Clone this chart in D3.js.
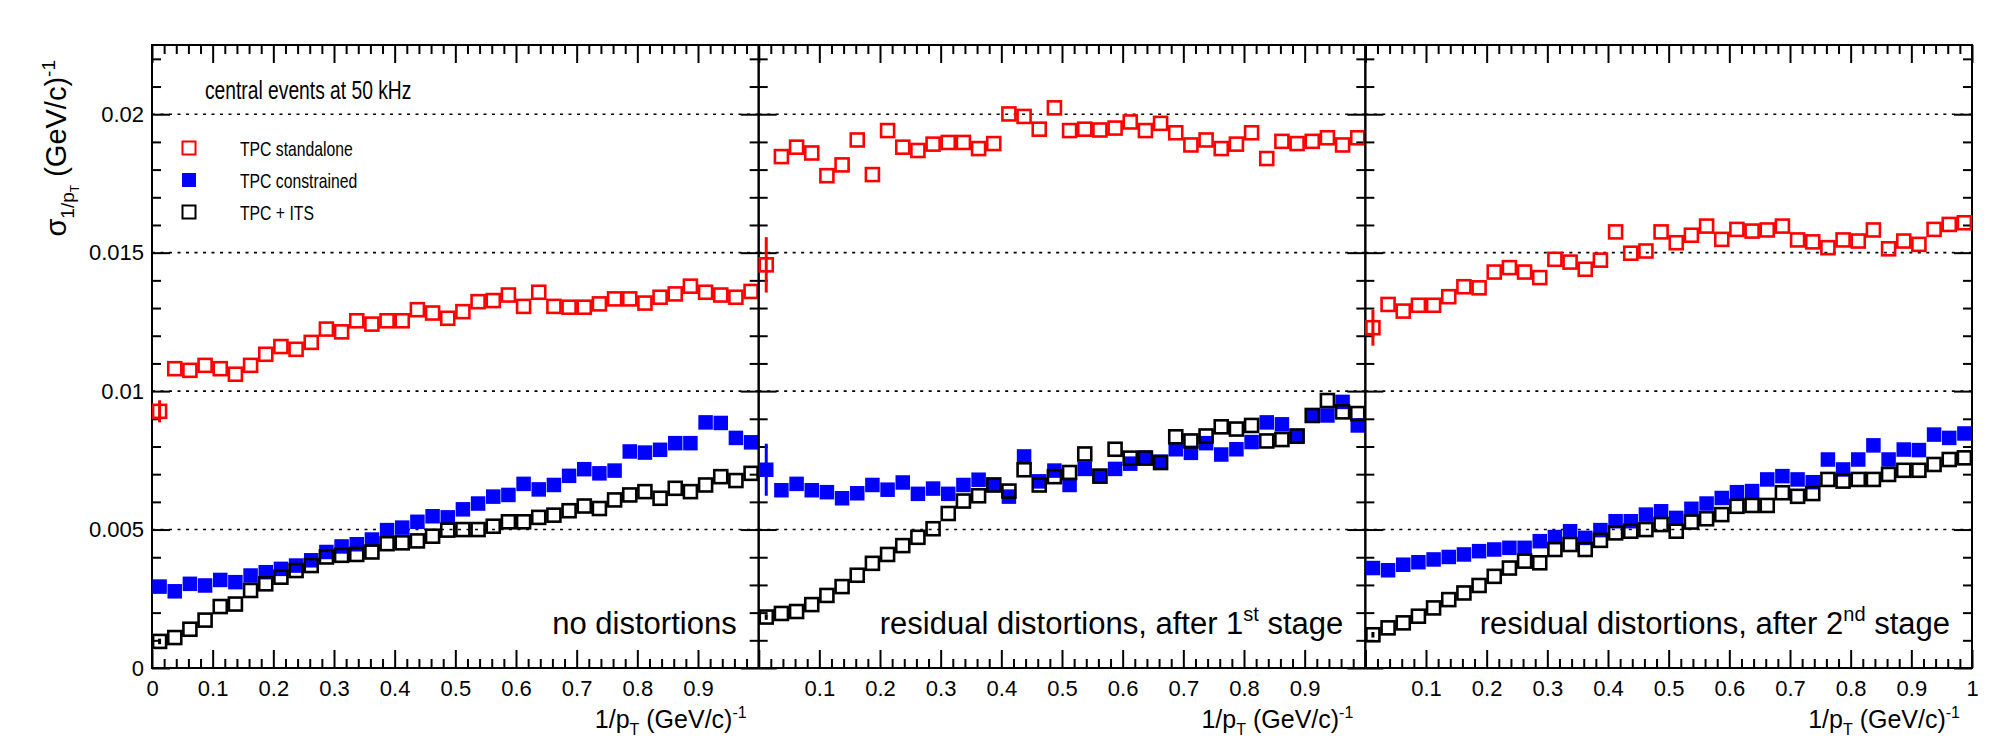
<!DOCTYPE html>
<html>
<head>
<meta charset="utf-8">
<script src="https://cdn.jsdelivr.net/npm/d3@7"></script>
<style>
  body { margin: 0; background: #fff; }
  text { font-family: "Liberation Sans", Arial, Helvetica, sans-serif; fill: #000; }
</style>
</head>
<body>
<div id="chart"></div>
<script>
// bin centres of 1/pT (GeV/c)^-1, 40 bins of 0.025
var binCenters = [0.0125, 0.0375, 0.0625, 0.0875, 0.1125, 0.1375, 0.1625, 0.1875, 0.2125, 0.2375,
  0.2625, 0.2875, 0.3125, 0.3375, 0.3625, 0.3875, 0.4125, 0.4375, 0.4625, 0.4875,
  0.5125, 0.5375, 0.5625, 0.5875, 0.6125, 0.6375, 0.6625, 0.6875, 0.7125, 0.7375,
  0.7625, 0.7875, 0.8125, 0.8375, 0.8625, 0.8875, 0.9125, 0.9375, 0.9625, 0.9875];

// panel 1 : no distortions
var standaloneNoDist = [0.00927, 0.01081, 0.01075, 0.01093, 0.01081, 0.01061, 0.01093, 0.01133, 0.01161, 0.01151,
  0.01176, 0.01224, 0.01214, 0.01254, 0.01242, 0.01254, 0.01254, 0.01294, 0.01282, 0.01263,
  0.01287, 0.01323, 0.01327, 0.01347, 0.01306, 0.01357, 0.01306, 0.01303, 0.01303, 0.01315,
  0.01333, 0.01333, 0.01318, 0.01339, 0.01351, 0.01379, 0.01357, 0.01347, 0.01339, 0.01360];
var constrainedNoDist = [0.00294, 0.00277, 0.00304, 0.00298, 0.00318, 0.00310, 0.00334, 0.00346, 0.00358, 0.00370,
  0.00389, 0.00419, 0.00439, 0.00447, 0.00464, 0.00498, 0.00507, 0.00528, 0.00548, 0.00544,
  0.00573, 0.00594, 0.00619, 0.00625, 0.00665, 0.00645, 0.00661, 0.00694, 0.00718, 0.00703,
  0.00713, 0.00782, 0.00778, 0.00788, 0.00812, 0.00812, 0.00887, 0.00885, 0.00831, 0.00815];
var itsNoDist = [0.00096, 0.00110, 0.00140, 0.00173, 0.00222, 0.00231, 0.00280, 0.00304, 0.00328, 0.00352,
  0.00370, 0.00401, 0.00407, 0.00410, 0.00419, 0.00449, 0.00452, 0.00459, 0.00476, 0.00498,
  0.00500, 0.00500, 0.00512, 0.00528, 0.00528, 0.00544, 0.00552, 0.00568, 0.00585, 0.00576,
  0.00607, 0.00625, 0.00637, 0.00613, 0.00649, 0.00637, 0.00661, 0.00691, 0.00677, 0.00703];

// panel 2 : after 1st stage
var standaloneStage1 = [0.01456, 0.01847, 0.01881, 0.01860, 0.01778, 0.01817, 0.01907, 0.01782, 0.01941, 0.01881,
  0.01869, 0.01892, 0.01898, 0.01898, 0.01876, 0.01894, 0.02001, 0.01992, 0.01946, 0.02023,
  0.01941, 0.01946, 0.01943, 0.01950, 0.01972, 0.01941, 0.01967, 0.01933, 0.01889, 0.01907,
  0.01876, 0.01892, 0.01933, 0.01840, 0.01902, 0.01894, 0.01902, 0.01915, 0.01889, 0.01915];
var constrainedStage1 = [0.00716, 0.00642, 0.00665, 0.00642, 0.00635, 0.00613, 0.00631, 0.00661, 0.00644, 0.00670,
  0.00629, 0.00648, 0.00629, 0.00661, 0.00680, 0.00661, 0.00619, 0.00764, 0.00674, 0.00713,
  0.00661, 0.00719, 0.00693, 0.00719, 0.00738, 0.00760, 0.00745, 0.00790, 0.00777, 0.00812,
  0.00771, 0.00790, 0.00816, 0.00887, 0.00880, 0.00835, 0.00912, 0.00912, 0.00961, 0.00876];
var itsStage1 = [0.00184, 0.00197, 0.00204, 0.00229, 0.00262, 0.00294, 0.00335, 0.00378, 0.00410, 0.00442,
  0.00472, 0.00503, 0.00558, 0.00603, 0.00622, 0.00661, 0.00639, 0.00716, 0.00661, 0.00691,
  0.00706, 0.00773, 0.00693, 0.00790, 0.00758, 0.00758, 0.00742, 0.00835, 0.00820, 0.00838,
  0.00871, 0.00863, 0.00876, 0.00820, 0.00825, 0.00838, 0.00912, 0.00966, 0.00925, 0.00919];

// panel 3 : after 2nd stage
var standaloneStage2 = [0.01229, 0.01313, 0.01289, 0.01310, 0.01310, 0.01341, 0.01377, 0.01373, 0.01430, 0.01446,
  0.01430, 0.01410, 0.01476, 0.01466, 0.01440, 0.01473, 0.01575, 0.01498, 0.01506, 0.01575,
  0.01536, 0.01563, 0.01596, 0.01548, 0.01584, 0.01578, 0.01582, 0.01596, 0.01546, 0.01539,
  0.01518, 0.01546, 0.01542, 0.01582, 0.01514, 0.01542, 0.01530, 0.01584, 0.01602, 0.01608];
var constrainedStage2 = [0.00361, 0.00353, 0.00373, 0.00382, 0.00392, 0.00401, 0.00410, 0.00422, 0.00428, 0.00434,
  0.00434, 0.00458, 0.00473, 0.00494, 0.00470, 0.00498, 0.00530, 0.00530, 0.00554, 0.00566,
  0.00542, 0.00575, 0.00594, 0.00614, 0.00635, 0.00639, 0.00681, 0.00693, 0.00681, 0.00671,
  0.00753, 0.00717, 0.00753, 0.00804, 0.00753, 0.00789, 0.00787, 0.00843, 0.00831, 0.00847];
var itsStage2 = [0.00120, 0.00145, 0.00163, 0.00187, 0.00217, 0.00247, 0.00271, 0.00298, 0.00331, 0.00361,
  0.00386, 0.00380, 0.00428, 0.00446, 0.00428, 0.00461, 0.00488, 0.00494, 0.00500, 0.00518,
  0.00494, 0.00527, 0.00539, 0.00554, 0.00584, 0.00587, 0.00587, 0.00633, 0.00620, 0.00630,
  0.00681, 0.00675, 0.00681, 0.00681, 0.00699, 0.00714, 0.00714, 0.00735, 0.00753, 0.00759];

// error of the first bin (the only ones sticking out of the markers), per panel
var standaloneErr0 = [0.0004, 0.0010, 0.00065];
var constrainedErr0 = [0.00008, 0.00094, 0.0001];
var itsErr0 = [0.0001, 0.0001, 0.0001];

var yTickValues = [0, 0.005, 0.01, 0.015, 0.02];
var yTickLabels = ["0", "0.005", "0.01", "0.015", "0.02"];
var gridValues = [0.005, 0.01, 0.015, 0.02];
var xTickLabels = [
  ["0", "0.1", "0.2", "0.3", "0.4", "0.5", "0.6", "0.7", "0.8", "0.9"],
  ["0.1", "0.2", "0.3", "0.4", "0.5", "0.6", "0.7", "0.8", "0.9"],
  ["0.1", "0.2", "0.3", "0.4", "0.5", "0.6", "0.7", "0.8", "0.9", "1"]
];
var panelLabels = [
  { text: "no distortions" },
  { text: "residual distortions, after 1", sup: "st", post: " stage" },
  { text: "residual distortions, after 2", sup: "nd", post: " stage" }
];
var legendNames = ["TPC standalone", "TPC constrained", "TPC + ITS"];

var panels = [
  { standalone: standaloneNoDist, constrained: constrainedNoDist, its: itsNoDist },
  { standalone: standaloneStage1, constrained: constrainedStage1, its: itsStage1 },
  { standalone: standaloneStage2, constrained: constrainedStage2, its: itsStage2 }
];

var width = 2006, height = 739;
var margin = { left: 152, right: 34, top: 45, bottom: 71 };
var panelW = (width - margin.left - margin.right) / 3;
var bottomY = height - margin.bottom;
var majorLen = 18, minorLen = 9, mSize = 13;
var fontFam = '"Liberation Sans", Arial, sans-serif';

var svg = d3.select("#chart").append("svg")
    .attr("width", width)
    .attr("height", height);

var y = d3.scaleLinear().domain([0, 0.0225]).range([bottomY, margin.top]);

var xMajor = d3.range(0, 1.0001, 0.1);
var xMinor = d3.range(0, 1.0001, 0.02).filter(v => Math.abs(v * 10 - Math.round(v * 10)) > 1e-6);
var yMinor = d3.range(0, 0.0225, 0.001).filter(v => Math.abs(v * 200 - Math.round(v * 200)) > 1e-6);

function cleanAxis(g) {
    g.select('.domain').remove();
    g.selectAll('.tick line').attr('stroke', '#000').attr('stroke-width', 2);
}

panels.forEach(function (pd, p) {
    var left = margin.left + p * panelW;
    var right = left + panelW;
    var x = d3.scaleLinear().domain([0, 1]).range([left, right]);
    var g = svg.append('g').attr('class', 'panel');

    // dotted grid
    g.selectAll('line.grid')
        .data(gridValues)
        .enter()
        .append('line')
        .attr('class', 'grid')
        .attr('x1', left).attr('x2', right)
        .attr('y1', d => y(d)).attr('y2', d => y(d))
        .attr('stroke', '#000')
        .attr('stroke-width', 1.6)
        .attr('stroke-dasharray', '3,5.5');

    // bottom axis, major with labels
    var labs = xTickLabels[p];
    var xb = g.append('g')
        .attr('transform', `translate(0, ${bottomY})`)
        .call(d3.axisBottom(x).tickValues(xMajor).tickSize(-majorLen).tickPadding(12)
            .tickFormat(d => {
                var s = d3.format('.1~f')(d);
                return labs.indexOf(s) >= 0 ? s : '';
            }));
    cleanAxis(xb);
    xb.selectAll('text').attr('font-size', 22).attr('font-family', fontFam).attr('fill', '#000');

    var xbm = g.append('g')
        .attr('transform', `translate(0, ${bottomY})`)
        .call(d3.axisBottom(x).tickValues(xMinor).tickSize(-minorLen).tickFormat(''));
    cleanAxis(xbm);

    // top axis
    var xt = g.append('g')
        .attr('transform', `translate(0, ${margin.top})`)
        .call(d3.axisTop(x).tickValues(xMajor).tickSize(-majorLen).tickFormat(''));
    cleanAxis(xt);
    var xtm = g.append('g')
        .attr('transform', `translate(0, ${margin.top})`)
        .call(d3.axisTop(x).tickValues(xMinor).tickSize(-minorLen).tickFormat(''));
    cleanAxis(xtm);

    // left & right y ticks
    var yl = g.append('g')
        .attr('transform', `translate(${left}, 0)`)
        .call(d3.axisLeft(y).tickValues(yTickValues).tickSize(-majorLen).tickPadding(8)
            .tickFormat((d, i) => p === 0 ? yTickLabels[i] : ''));
    cleanAxis(yl);
    yl.selectAll('text').attr('font-size', 22).attr('font-family', fontFam).attr('fill', '#000');
    var ylm = g.append('g')
        .attr('transform', `translate(${left}, 0)`)
        .call(d3.axisLeft(y).tickValues(yMinor).tickSize(-minorLen).tickFormat(''));
    cleanAxis(ylm);
    var yr = g.append('g')
        .attr('transform', `translate(${right}, 0)`)
        .call(d3.axisRight(y).tickValues(yTickValues).tickSize(-majorLen).tickFormat(''));
    cleanAxis(yr);
    var yrm = g.append('g')
        .attr('transform', `translate(${right}, 0)`)
        .call(d3.axisRight(y).tickValues(yMinor).tickSize(-minorLen).tickFormat(''));
    cleanAxis(yrm);

    // frame
    g.append('rect')
        .attr('x', left).attr('y', margin.top)
        .attr('width', panelW).attr('height', bottomY - margin.top)
        .attr('fill', 'none')
        .attr('stroke', '#000')
        .attr('stroke-width', 2);

    // series
    var series = [
        { key: 'standalone', vals: pd.standalone, err0: standaloneErr0[p], color: '#ff0000', filled: false },
        { key: 'constrained', vals: pd.constrained, err0: constrainedErr0[p], color: '#0000ff', filled: true },
        { key: 'its', vals: pd.its, err0: itsErr0[p], color: '#000000', filled: false }
    ];

    series.forEach(function (s) {
        var pts = binCenters.map((c, i) => ({ x: c, v: s.vals[i], e: i === 0 ? s.err0 : 0 }));
        var sg = g.append('g').attr('class', 'series ' + s.key);

        sg.selectAll('line.err')
            .data(pts.filter(d => d.e > 0))
            .enter()
            .append('line')
            .attr('class', 'err')
            .attr('x1', d => x(d.x)).attr('x2', d => x(d.x))
            .attr('y1', d => y(d.v - d.e)).attr('y2', d => y(d.v + d.e))
            .attr('stroke', s.color)
            .attr('stroke-width', 3);

        sg.selectAll('rect.mk')
            .data(pts)
            .enter()
            .append('rect')
            .attr('class', 'mk')
            .attr('x', d => x(d.x) - mSize / 2)
            .attr('y', d => y(d.v) - mSize / 2)
            .attr('width', mSize)
            .attr('height', mSize)
            .attr('fill', s.filled ? s.color : 'none')
            .attr('stroke', s.color)
            .attr('stroke-width', s.filled ? 1.5 : 2.6);
    });

    // panel label
    var pl = panelLabels[p];
    var t = g.append('text')
        .attr('x', right - 22)
        .attr('y', 634)
        .attr('text-anchor', 'end')
        .attr('font-size', 31)
        .text(pl.text);
    if (pl.sup) {
        t.append('tspan').attr('dy', -13).attr('font-size', 20).text(pl.sup);
        t.append('tspan').attr('dy', 13).text(pl.post);
    }

    // x title
    var xtitle = g.append('text')
        .attr('x', right - 12)
        .attr('y', 728)
        .attr('text-anchor', 'end')
        .attr('font-size', 25)
        .text('1/p');
    xtitle.append('tspan').attr('dy', 7).attr('font-size', 16).text('T');
    xtitle.append('tspan').attr('dy', -7).text(' (GeV/c)');
    xtitle.append('tspan').attr('dy', -10).attr('font-size', 16).text('-1');
});

// y title
var yt = svg.append('text')
    .attr('transform', 'translate(66, 60) rotate(-90)')
    .attr('text-anchor', 'end')
    .attr('font-size', 29)
    .text('\u03C3');
yt.append('tspan').attr('dy', 8).attr('font-size', 19).text('1/p');
yt.append('tspan').attr('dy', 5).attr('font-size', 12).text('T');
yt.append('tspan').attr('dy', -13).text(' (GeV/c)');
yt.append('tspan').attr('dy', -11).attr('font-size', 19).text('-1');

// header and legend (narrow lettering, as in the original)
svg.append('text')
    .attr('transform', 'translate(205, 99) scale(0.77, 1)')
    .attr('font-size', 25)
    .text('central events at 50 kHz');

var legendColors = ['#ff0000', '#0000ff', '#000000'];
var legendFilled = [false, true, false];
var leg = svg.append('g').attr('class', 'legend');
leg.selectAll('rect')
    .data(legendNames)
    .enter()
    .append('rect')
    .attr('x', 189 - mSize / 2)
    .attr('y', (d, i) => 148 + i * 32 - mSize / 2)
    .attr('width', mSize)
    .attr('height', mSize)
    .attr('fill', (d, i) => legendFilled[i] ? legendColors[i] : 'none')
    .attr('stroke', (d, i) => legendColors[i])
    .attr('stroke-width', (d, i) => legendFilled[i] ? 1 : 2);
leg.selectAll('text')
    .data(legendNames)
    .enter()
    .append('text')
    .attr('transform', (d, i) => `translate(240, ${148 + i * 32 + 8}) scale(0.75, 1)`)
    .attr('font-size', 21)
    .text(d => d);
</script>
</body>
</html>
